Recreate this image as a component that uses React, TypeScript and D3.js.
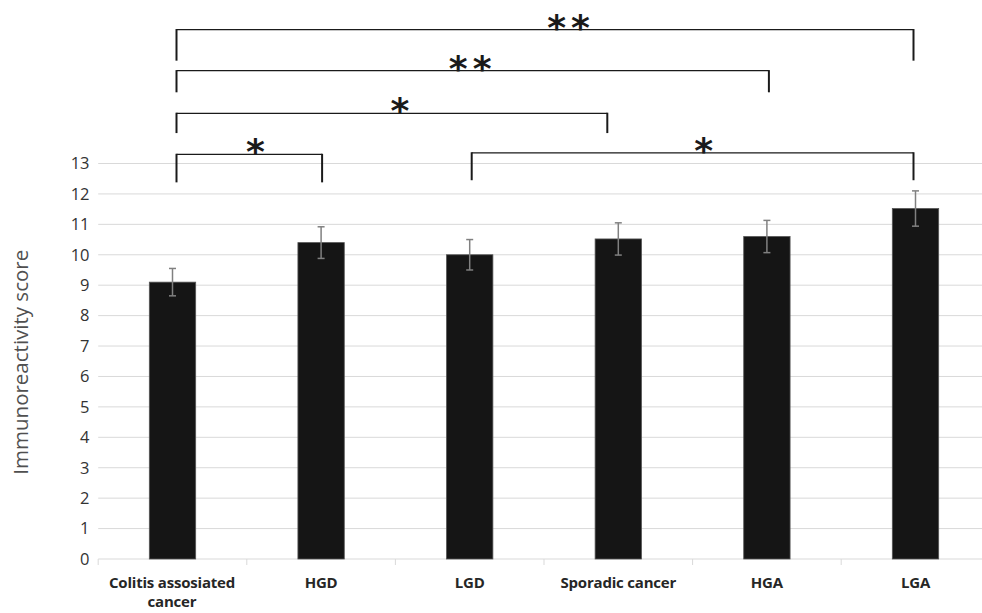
import React from "react"
import * as d3 from "d3"

// Chart data
const categories = ["Colitis assosiated cancer", "HGD", "LGD", "Sporadic cancer", "HGA", "LGA"]
const categoryLines = [["Colitis assosiated", "cancer"], ["HGD"], ["LGD"], ["Sporadic cancer"], ["HGA"], ["LGA"]]
const means = [9.1, 10.4, 10.0, 10.52, 10.6, 11.52]
const errors = [0.45, 0.52, 0.5, 0.53, 0.53, 0.58]
const yTicks = [0, 1, 2, 3, 4, 5, 6, 7, 8, 9, 10, 11, 12, 13]

// Significance comparisons (category indexes), labels, bracket height and tip (score units)
const pairs = [
  [0, 1],
  [0, 3],
  [0, 4],
  [0, 5],
  [2, 5],
]
const pairLabels = ["*", "*", "**", "**", "*"]
const bracketTops = [13.3, 14.65, 16.05, 17.4, 13.35]
const bracketTips = [12.38, 14.0, 15.34, 16.38, 12.45]

const W = 982
const H = 613

const App: React.FC = () => {
  const y = d3.scaleLinear().domain([0, 13]).range([559, 163.5])
  const x = d3
    .scaleBand<string>()
    .domain(categories)
    .range([98.2, 989.8])
    .paddingInner(0.688)
    .paddingOuter(0.344)
  const bw = x.bandwidth()
  const step = x.step()
  const cx = (i: number) => (x(categories[i]) ?? 0) + bw / 2
  const left0 = 98.2

  // small tweaks so bracket ends / star labels sit where the original drew them
  const endShift = [
    [4, 1],
    [4, -11],
    [4, 2],
    [4, -2],
    [2, -2],
  ]
  const labelShift = [6, 8, 0, 26, 11]

  return (
    <div style={{ position: "fixed", left: 0, top: 0 }}>
      <svg width={W} height={H} style={{ display: "block", background: "#fff" }}>
        {/* grid */}
        {yTicks.slice(1).map((t) => (
          <line key={t} x1={left0} x2={W} y1={y(t)} y2={y(t)} stroke="#d9d9d9" strokeWidth={1} />
        ))}
        {/* x axis */}
        <line x1={left0} x2={W} y1={y(0)} y2={y(0)} stroke="#d9d9d9" strokeWidth={1} />
        {categories.map((c, i) => (
          <line key={c} x1={left0 + i * step} x2={left0 + i * step} y1={y(0)} y2={y(0) + 6} stroke="#d9d9d9" />
        ))}
        {/* y tick labels */}
        {yTicks.map((t) => (
          <text
            key={t}
            x={89.5}
            y={y(t) + 5.8}
            textAnchor="end"
            fontFamily="'Open Sans', sans-serif"
            fontSize={16.5}
            fill="#333"
          >
            {t}
          </text>
        ))}
        {/* y label */}
        <text
          transform={`translate(28, ${y(6.5) + 1}) rotate(-90)`}
          textAnchor="middle"
          fontFamily="'Open Sans', sans-serif"
          fontSize={20.5}
          fill="#505050"
        >
          Immunoreactivity score
        </text>
        {/* bars */}
        {categories.map((c, i) => (
          <rect
            key={c}
            x={x(c)}
            y={y(means[i])}
            width={bw}
            height={y(0) - y(means[i])}
            fill="#151515"
            stroke="#555"
            strokeWidth={0.8}
          />
        ))}
        {/* error bars */}
        {categories.map((c, i) => {
          const hi = y(means[i] + errors[i])
          const lo = y(means[i] - errors[i])
          const xc = cx(i)
          return (
            <g key={c} stroke="#808080" strokeWidth={1.5}>
              <line x1={xc} x2={xc} y1={hi} y2={lo} />
              <line x1={xc - 3.5} x2={xc + 3.5} y1={hi} y2={hi} />
              <line x1={xc - 3.5} x2={xc + 3.5} y1={lo} y2={lo} />
            </g>
          )
        })}
        {/* category labels */}
        {categories.map((c, i) =>
          categoryLines[i].map((ln, j) => (
            <text
              key={c + j}
              x={cx(i) + (i === 0 ? -0.5 : 0)}
              y={588 + j * 19}
              textAnchor="middle"
              fontFamily="'Open Sans', sans-serif"
              fontWeight="bold"
              fontSize={15}
              letterSpacing={-0.2}
              fill="#262626"
            >
              {ln}
            </text>
          )),
        )}
        {/* significance brackets */}
        {pairs.map(([a, b], k) => {
          const x1 = cx(a) + endShift[k][0]
          const x2 = cx(b) + endShift[k][1]
          const top = y(bracketTops[k])
          const tip = y(bracketTips[k])
          return (
            <g key={k}>
              <line x1={x1} x2={x2} y1={top} y2={top} stroke="#1a1a1a" strokeWidth={1.3} />
              <line x1={x1} x2={x1} y1={top - 0.6} y2={tip} stroke="#1a1a1a" strokeWidth={2} />
              <line x1={x2} x2={x2} y1={top - 0.6} y2={tip} stroke="#1a1a1a" strokeWidth={2} />
              <text
                x={(x1 + x2) / 2 + labelShift[k]}
                y={top + 10}
                textAnchor="middle"
                fontFamily="'DejaVu Sans', sans-serif"
                fontWeight="bold"
                fontSize={36}
                letterSpacing={pairLabels[k].length > 1 ? 5 : 0}
                fill="#1a1a1a"
              >
                {pairLabels[k]}
              </text>
            </g>
          )
        })}
      </svg>
    </div>
  )
}

export default App
